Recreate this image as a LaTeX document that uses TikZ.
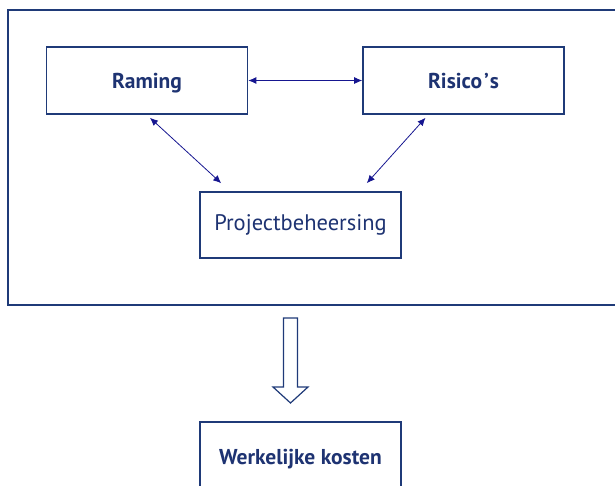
\documentclass[tikz,border=0pt]{standalone}
\usepackage{fontspec}
\setmainfont{PT Sans}
\definecolor{kader}{HTML}{1F3A78}
\definecolor{pijl}{HTML}{161690}
\definecolor{tekst}{HTML}{1E3372}
\usetikzlibrary{arrows.meta}
\tikzset{
    blok/.style={draw=kader, line width=1.6pt, fill=white, text=tekst,
        minimum width=201pt, inner sep=0pt, font=\fontsize{22.5}{26}\selectfont},
    vet/.style={font=\fontsize{21.5}{26}\selectfont\bfseries},
    relatie/.style={draw=pijl, line width=0.8pt, {Latex[length=8pt,width=7pt]}-{Latex[length=8pt,width=7pt]}}
}
\begin{document}
\begin{tikzpicture}[x=1pt,y=-1pt]
    \useasboundingbox
        (0,0) rectangle (615,485);
    \clip
        (0,0) rectangle (615,485);
    \draw 
        [kader, line width=1.6pt] (8,10) rectangle (630,305);
    \node 
        [blok, vet, minimum height=67pt, text depth=0pt] (raming) at (147,80.5) {Raming};
    \node 
        [blok, vet, minimum height=67pt, text depth=0pt] (risico) at (463.5,80.5) {Risico\kern2pt’\kern1pt s};
    \node 
        [blok, minimum height=66pt] (beheersing) at (300.5,225) {Projectbeheersing};
    \node 
        [blok, vet, minimum height=70pt, text depth=0pt] (kosten) at (300.5,457) {Werkelijke kosten};
    \draw 
        [relatie] (raming.east)--(risico.west);
    \draw 
        [relatie] ([xshift=3pt,yshift=-3pt]raming.south)--([xshift=22pt,yshift=8pt]beheersing.north west);
    \draw 
        [relatie] ([xshift=-38pt,yshift=-3pt]risico.south)--([xshift=-35pt,yshift=8pt]beheersing.north east);
    \draw 
        [kader, line width=1.2pt, fill=white] (283.5,318)--(297.5,318)--(297.5,387)--(308,387)--(290.5,403)--(273,387)--(283.5,387)--cycle;
\end{tikzpicture}
\end{document}
